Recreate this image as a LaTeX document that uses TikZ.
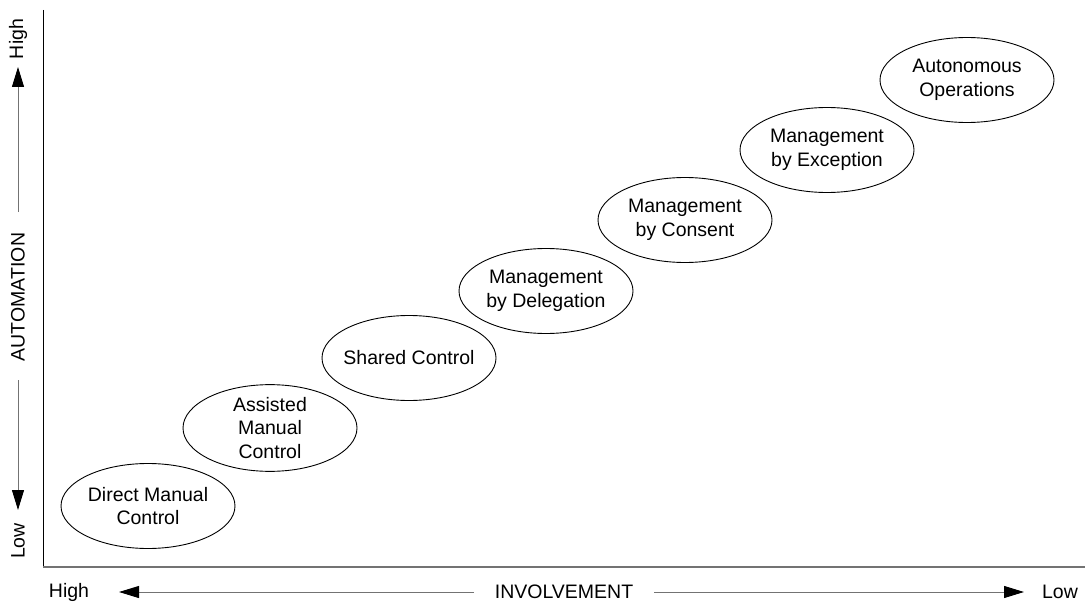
\documentclass[tikz,border=0pt]{standalone}
\usepackage{fontspec}
\setmainfont{Liberation Sans}
\usetikzlibrary{shapes.geometric,arrows.meta}
\begin{document}
\begin{tikzpicture}[x=1pt,y=-1pt,
  stage/.style={ellipse,draw=black,line width=0.9pt,minimum width=174pt,minimum height=85pt,inner sep=0pt,align=center,font=\fontsize{19.5}{23.5}\selectfont},
  axlabel/.style={inner sep=0pt,font=\fontsize{19.5}{23.5}\selectfont},
  axarrow/.style={draw=black!55,line width=1pt,-{Triangle[length=20pt,width=12pt,color=black]}},
  axline/.style={draw=black,line width=0.9pt}]
\useasboundingbox (0,0) rectangle (1085,602);
% axes
\coordinate (org) at (43,567);
\coordinate (ytop) at (43,10);
\coordinate (xend) at (1085,567);
\draw[axline] (ytop) -- (org);
\draw[draw=black!55,line width=1.6pt] (org) -- (xend);
% vertical axis label
\node[axlabel,rotate=90] (yhigh) at (18,39) {High};
\node[axlabel,rotate=90] (ylab) at (18,297) {AUTOMATION};
\node[axlabel,rotate=90] (ylow) at (18,541) {Low};
\coordinate (yup1) at (18,212);
\coordinate (yup2) at (18,67);
\coordinate (ydn1) at (18,380);
\coordinate (ydn2) at (18,510);
\draw[axarrow] (yup1) -- (yup2);
\draw[axarrow] (ydn1) -- (ydn2);
% horizontal axis label
\node[axlabel] (xhigh) at (69,592) {High};
\node[axlabel] (xlab) at (564,592) {INVOLVEMENT};
\node[axlabel] (xlow) at (1060,592) {Low};
\coordinate (xl1) at (474,592);
\coordinate (xl2) at (119,592);
\coordinate (xr1) at (654,592);
\coordinate (xr2) at (1024,592);
\draw[axarrow] (xl1) -- (xl2);
\draw[axarrow] (xr1) -- (xr2);
% stages
\node[stage] (s1) at (148,506) {Direct Manual\\Control};
\node[stage] (s2) at (270,428) {Assisted\\Manual\\Control};
\node[stage,inner xsep=-12pt] (s3) at (409,358) {Shared Control};
\node[stage] (s4) at (546,291) {Management\\by Delegation};
\node[stage] (s5) at (685,220) {Management\\by Consent};
\node[stage] (s6) at (827,150) {Management\\by Exception};
\node[stage] (s7) at (967,80) {Autonomous\\Operations};
\end{tikzpicture}
\end{document}
